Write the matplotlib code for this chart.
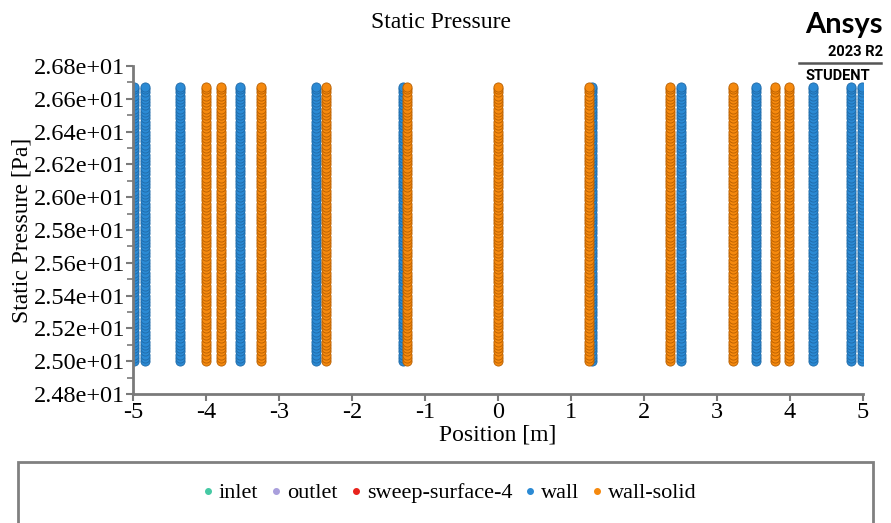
import matplotlib
matplotlib.use("Agg")
import matplotlib.pyplot as plt
from matplotlib.lines import Line2D
from matplotlib.patches import Rectangle
from matplotlib.ticker import MultipleLocator

plt.rcParams['font.family'] = ['Liberation Serif', 'DejaVu Serif']

# ---- data ----
series_names = ["inlet", "outlet", "sweep-surface-4", "wall", "wall-solid"]
series_colors = ["#45c9a4", "#a99fdc", "#e8231c", "#2b8ad4", "#f5890e"]
series_edges = ["#2a8a70", "#7066a8", "#a01010", "#1f6aa8", "#b85f00"]

inlet_x = []
outlet_x = []
sweep_x = []
wall_x = [-4.99, -4.83, -4.35, -3.54, -2.50, -1.30, 1.29, 2.50, 3.53, 4.32, 4.83, 4.98]
wall_solid_x = [-4.00, -3.80, -3.24, -2.35, -1.25, 0.00, 1.24, 2.36, 3.22, 3.80, 3.98]

pressure_levels = [25.00, 25.02, 25.04, 25.06, 25.08, 25.10, 25.12, 25.14, 25.16, 25.18,
                   25.20, 25.22, 25.24, 25.26, 25.28, 25.30, 25.32, 25.34, 25.36, 25.38,
                   25.40, 25.42, 25.44, 25.46, 25.48, 25.50, 25.52, 25.54, 25.56, 25.58,
                   25.60, 25.62, 25.64, 25.66, 25.68, 25.70, 25.72, 25.74, 25.76, 25.78,
                   25.80, 25.82, 25.84, 25.86, 25.88, 25.90, 25.92, 25.94, 25.96, 25.98,
                   26.00, 26.02, 26.04, 26.06, 26.08, 26.10, 26.12, 26.14, 26.16, 26.18,
                   26.20, 26.22, 26.24, 26.26, 26.28, 26.30, 26.32, 26.34, 26.36, 26.38,
                   26.40, 26.42, 26.44, 26.46, 26.48, 26.50, 26.52, 26.54, 26.56, 26.58,
                   26.60, 26.62, 26.64, 26.66, 26.67]

xticks = [-5, -4, -3, -2, -1, 0, 1, 2, 3, 4, 5]
xtick_labels = ["-5", "-4", "-3", "-2", "-1", "0", "1", "2", "3", "4", "5"]
yticks = [24.8, 25.0, 25.2, 25.4, 25.6, 25.8, 26.0, 26.2, 26.4, 26.6, 26.8]

series_x = [inlet_x, outlet_x, sweep_x, wall_x, wall_solid_x]

# ---- figure ----
fig = plt.figure(figsize=(8.91, 5.23), dpi=100)
ax = fig.add_axes([133/891, 1-394/523, (863-133)/891, (394-66)/523])

spine_color = "#7a7a7a"
for xs, c, ec in zip(series_x, series_colors, series_edges):
    px = []
    py = []
    for x in xs:
        for p in pressure_levels:
            px.append(x)
            py.append(p)
    ax.plot(px, py, linestyle="none", marker="o", markersize=6.6,
            markerfacecolor=c, markeredgecolor=ec, markeredgewidth=0.6)

ax.set_xlim(-5, 5)
ax.set_ylim(24.8, 26.8)
ax.set_xticks(xticks)
ax.set_xticklabels(xtick_labels)
ax.set_yticks(yticks)
ax.yaxis.set_minor_locator(MultipleLocator(0.1))
ax.yaxis.set_major_formatter(plt.FuncFormatter(lambda v, p: "{:.2e}".format(v)))

for s in ["top", "right"]:
    ax.spines[s].set_visible(False)
for s in ["left", "bottom"]:
    ax.spines[s].set_color(spine_color)
    ax.spines[s].set_linewidth(2)

ax.tick_params(axis="both", which="major", direction="out", length=5, width=1.5,
               color=spine_color, labelsize=17.5, pad=0.5)
ax.tick_params(axis="y", which="minor", direction="out", length=4, width=1.2,
               color=spine_color)

ax.set_xlabel("Position [m]", fontsize=17, labelpad=1)
ax.set_ylabel("Static Pressure [Pa]", fontsize=17, labelpad=1)

fig.text(441/891, 1-22/523, "Static Pressure", ha="center", va="center", fontsize=17)

# Ansys logo
fig.text(883/891, 1-25/523, "Ansys", ha="right", va="center", fontsize=21,
         fontweight="bold", family=["Lato", "DejaVu Sans"])
fig.text(883/891, 1-52/523, "2023 R2", ha="right", va="center", fontsize=10.5,
         fontweight="bold", family=["Roboto", "DejaVu Sans"])
fig.add_artist(Line2D([799/891, 881/891], [1-63/523, 1-63/523], color="#555555",
                      lw=1.8, transform=fig.transFigure))
fig.text(870/891, 1-76/523, "STUDENT", ha="right", va="center", fontsize=10.5,
         fontweight="bold", family=["Roboto", "DejaVu Sans"])

# legend box
fig.add_artist(Rectangle((18/891, -0.1), (873-18)/891, (1-462/523)+0.1,
                         transform=fig.transFigure, fill=False,
                         edgecolor="#808080", lw=2))

handles = [Line2D([], [], linestyle="none", marker="o", markersize=4,
                  markerfacecolor=c, markeredgecolor=c) for c in series_colors]
fig.legend(handles, series_names, loc="center", ncol=5,
           bbox_to_anchor=(449/891, 1-493/523), bbox_transform=fig.transFigure,
           frameon=False, fontsize=16, handlelength=0.6, handletextpad=0.2,
           columnspacing=0.5, borderpad=0)

fig.savefig("out.png", dpi=100)
